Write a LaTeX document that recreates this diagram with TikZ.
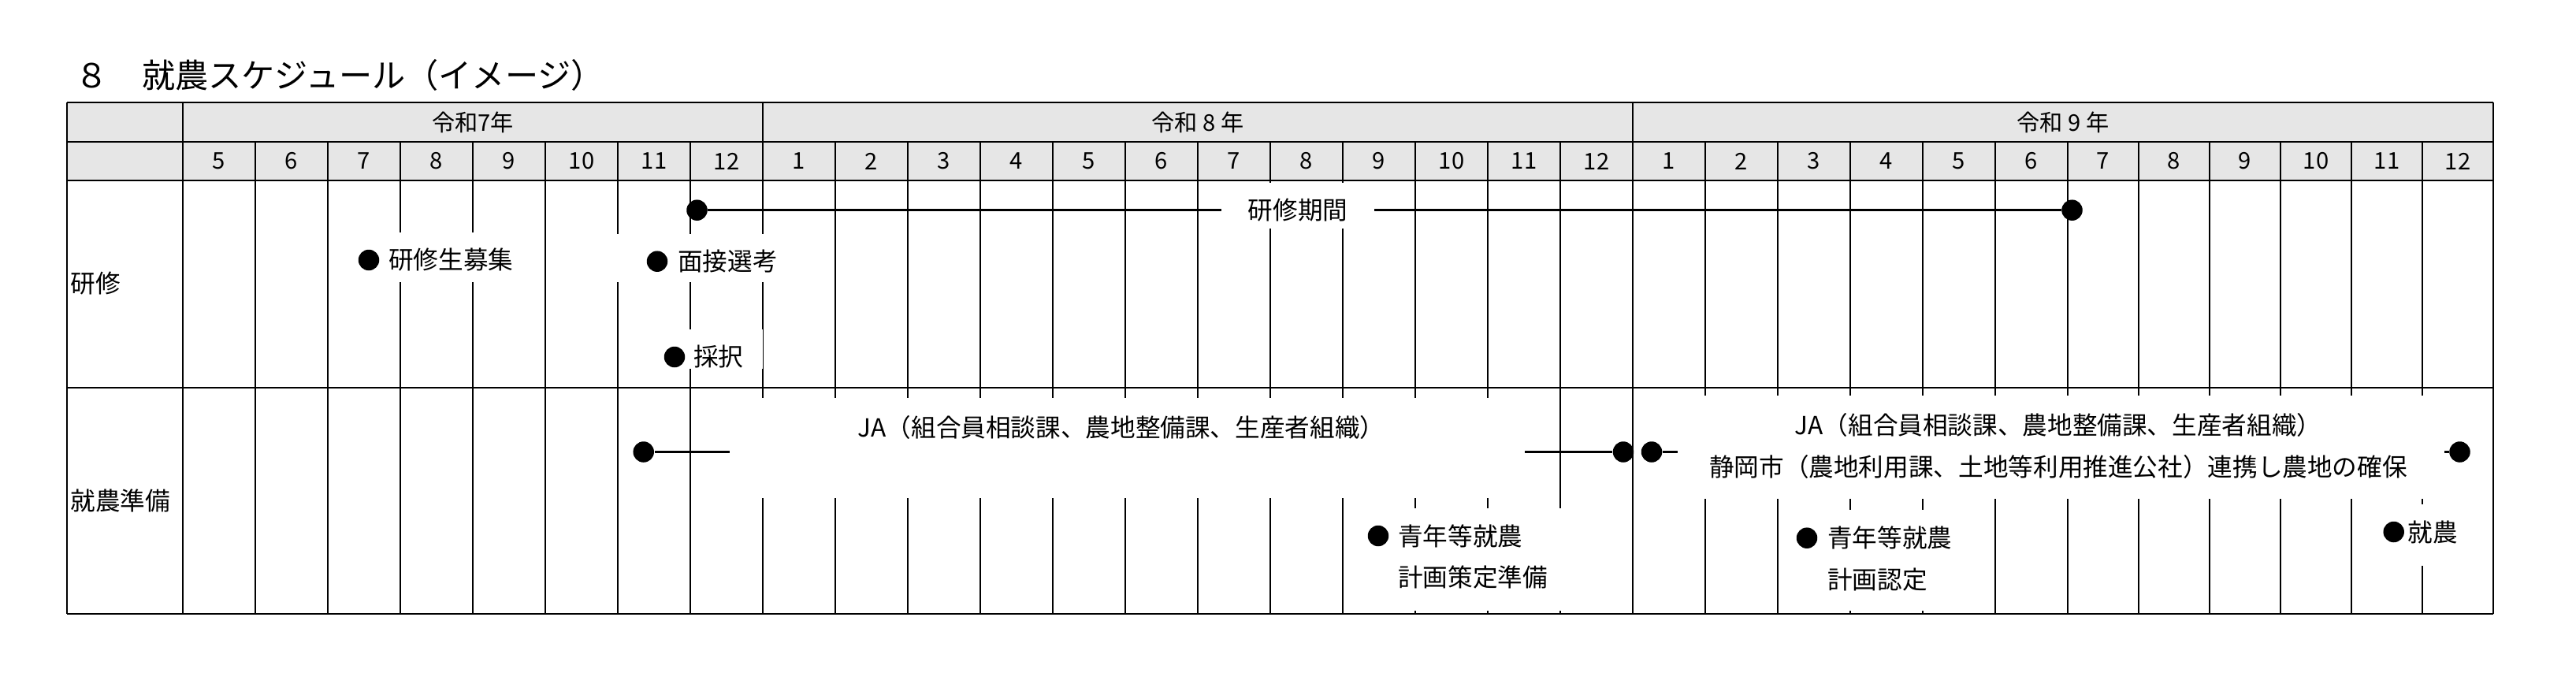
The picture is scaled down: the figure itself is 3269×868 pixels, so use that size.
\documentclass[tikz,border=0pt]{standalone}
\usepackage{fontspec}
\setmainfont{Noto Sans CJK JP}
\definecolor{headGray}{HTML}{E6E6E6}

\begin{document}
\begin{tikzpicture}
[x=0.1mm,y=-0.1mm,%
  gridLine/.style={line width=0.26mm},%
  frameLine/.style={line width=0.28mm},%
  pathLine/.style={line width=0.27mm},%
  headFill/.style={fill=headGray},%
  gapBox/.style={fill=white},%
  eventDot/.style={circle,fill=black,inner sep=0pt,minimum size=2.65mm},%
  headText/.style={inner sep=0pt,font=\fontsize{8.3}{10}\selectfont},%
  bodyText/.style={inner sep=0pt,font=\fontsize{9}{15}\selectfont},%
  eventText/.style={bodyText,anchor=west,align=left}]
\useasboundingbox (0,0) rectangle (3269,868);
%% title
\node[anchor=west,inner sep=0pt,font=\fontsize{12}{14}\selectfont] (title)
at (95,95) {８　就農スケジュール（イメージ）};
%% header background
\fill[headFill] (85,130) rectangle (3164,229);
%% the table lines
\foreach \k in {1,...,31}
{
  \pgfmathsetmacro{\xk}{232+92*min(\k,26)+90*max(\k-26,0)}
  \draw[gridLine] (\xk,180) -- (\xk,779);
}
\draw[gridLine] (968,130) -- (968,180);
\draw[gridLine] (2072,130) -- (2072,180);
\foreach \y in {130,180,229,492,779}
{
  \draw[frameLine] (85,\y) -- (3164,\y);
}
\foreach \x in {85,232,3164}
{
  \draw[frameLine] (\x,130) -- (\x,779);
}
%% header texts
\node[headText] (yearR7) at (600,155) {令和7年};
\node[headText] (yearR8) at (1520,155) {令和 8 年};
\node[headText] (yearR9) at (2618,155) {令和 9 年};
\foreach \m [count=\k] in {5,6,7,8,9,10,11,12,1,2,3,4,5,6,7,8,9,10,11,12,%
  1,2,3,4,5,6,7,8,9,10,11,12}
{
  \pgfmathsetmacro{\xc}{232+92*min(\k-0.5,26)+90*max(\k-0.5-26,0)}
  \node[headText] (month\k) at (\xc,204.5) {\m};
}
%% row titles
\node[eventText] (rowKenshu) at (89,360) {研修};
\node[eventText] (rowJunbi) at (89,635) {就農準備};
%% periods
\node[eventDot] (kikanStart) at (884.5,266.7) {};
\node[eventDot] (kikanEnd) at (2629.5,266.7) {};
\node[eventDot] (jaStartA) at (816.7,573.5) {};
\node[eventDot] (jaEndA) at (2060,573.5) {};
\node[eventDot] (jaStartB) at (2096,573.5) {};
\node[eventDot] (jaEndB) at (3121.5,573.5) {};
\draw[pathLine] (kikanStart) -- (kikanEnd);
\draw[pathLine] (jaStartA) -- (jaEndA);
\draw[pathLine] (jaStartB) -- (jaEndB);
%% white boxes behind the texts
\fill[gapBox] (1550,232) rectangle (1744,290);
\fill[gapBox] (445,295) rectangle (665,358);
\fill[gapBox] (770,297) rectangle (990,358);
\fill[gapBox] (825,418) rectangle (967.8,468);
\fill[gapBox] (926,505) rectangle (1935,632);
\fill[gapBox] (2129,502) rectangle (3102,633);
\fill[gapBox] (1715,645) rectangle (2030,775);
\fill[gapBox] (2265,647) rectangle (2505,775);
\fill[gapBox] (3000,640) rectangle (3130,718);
%% texts of the periods
\node[bodyText] (kikan) at (1647,266.7) {研修期間};
\node[bodyText] (jaTextA) at (1423,542) {JA（組合員相談課、農地整備課、生産者組織）};
\node[bodyText,align=center] (jaTextB) at (2612,566)
{JA（組合員相談課、農地整備課、生産者組織）\\静岡市（農地利用課、土地等利用推進公社）連携し農地の確保};
%% events
\node[eventDot] (boshuDot) at (468,330) {};
\node[eventText] (boshu) at ([xshift=1.05mm]boshuDot.east) {研修生募集};
\node[eventDot] (mensetsuDot) at (834,331.7) {};
\node[eventText] (mensetsu) at ([xshift=1.15mm]mensetsuDot.east) {面接選考};
\node[eventDot] (saitakuDot) at (856,453) {};
\node[eventText] (saitaku) at ([xshift=0.95mm]saitakuDot.east) {採択};
\node[eventDot] (junbiDot) at (1749,680) {};
\node[eventText] (junbi) at ([xshift=1.05mm,yshift=-2.65mm]junbiDot.east)
{青年等就農\\計画策定準備};
\node[eventDot] (ninteiDot) at (2293,682.7) {};
\node[eventText] (nintei) at ([xshift=1.15mm,yshift=-2.65mm]ninteiDot.east)
{青年等就農\\計画認定};
\node[eventDot] (shunoDot) at (3037.7,675) {};
\node[eventText] (shuno) at ([xshift=0.35mm]shunoDot.east) {就農};
\end{tikzpicture}
\end{document}
